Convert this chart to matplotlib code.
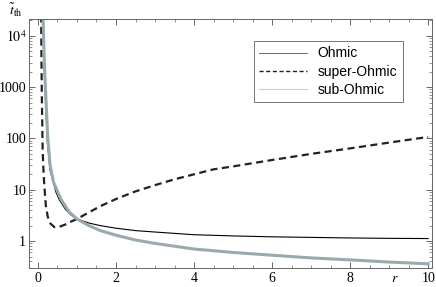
import numpy as np
import matplotlib.pyplot as plt
from matplotlib.ticker import FixedLocator, NullFormatter, MultipleLocator

plt.rcParams['mathtext.fontset'] = 'stix'

# valeurs
r_ohm = [0.125, 0.145, 0.16, 0.19, 0.24, 0.31, 0.38, 0.46, 0.55, 0.7, 0.85, 1.0, 1.3, 1.6, 2.0,
         2.5, 3.0, 4.0, 5.0, 6.0, 7.0, 8.0, 9.0, 10.0]
t_ohm = [25000, 6000, 2500, 560, 85, 24, 15, 9.0, 6.3, 4.2, 3.2, 2.7, 2.25, 2.0, 1.78,
         1.6, 1.5, 1.33, 1.26, 1.21, 1.18, 1.15, 1.13, 1.12]

r_super = [0.082, 0.09, 0.10, 0.12, 0.14, 0.16, 0.20, 0.25, 0.32, 0.42, 0.55, 0.7, 0.85, 1.0,
           1.3, 1.6, 2.0, 2.5, 3.0, 3.5, 4.0, 4.5, 5.0, 6.0, 7.0, 8.0, 9.0, 10.0]
t_super = [25000, 3000, 600, 60, 25, 13, 5.0, 3.0, 2.2, 1.87, 1.9, 2.1, 2.4, 2.7,
           3.6, 4.8, 6.6, 9.3, 12.3, 16, 20, 25, 28.5, 38, 50, 64, 83, 107]

r_sub = [0.13, 0.15, 0.17, 0.20, 0.25, 0.31, 0.40, 0.59, 0.8, 1.0, 1.3, 1.6, 2.0, 2.5, 3.0,
         4.0, 5.0, 6.0, 7.0, 8.0, 9.0, 10.0]
t_sub = [25000, 6500, 2200, 700, 110, 30, 14, 6.5, 3.7, 2.7, 2.0, 1.6, 1.3, 1.05, 0.9,
         0.70, 0.6, 0.53, 0.47, 0.43, 0.39, 0.36]

fig = plt.figure(figsize=(4.36, 2.87), dpi=100)
ax = fig.add_axes([0.0665, 0.066, 0.9245, 0.868])

ax.plot(r_ohm, t_ohm, color="black", lw=0.8, label="Ohmic")
ax.plot(r_super, t_super, color="#222222", lw=1.6, ls=(0, (3.2, 2.0)), label="super-Ohmic")
ax.plot(r_sub, t_sub, color="#9aa9ae", lw=2.2, label="sub-Ohmic")

ax.set_yscale("log")
ax.set_xlim(-0.23, 10.1)
ax.set_ylim(0.298, 21300)

ax.xaxis.set_major_locator(MultipleLocator(2))
ax.xaxis.set_minor_locator(MultipleLocator(0.5))
ax.yaxis.set_major_locator(FixedLocator([1, 10, 100, 1000, 10000]))
ax.set_yticklabels(["1", "10", "100", "1000", r"$10^4$"])
mins = [m * 10 ** k for k in range(-1, 5) for m in range(2, 10)]
ax.yaxis.set_minor_locator(FixedLocator(mins))
ax.yaxis.set_minor_formatter(NullFormatter())

ax.tick_params(which="both", direction="in", top=True, right=True, color="#666666",
               labelsize=10, pad=3)
ax.tick_params(axis="y", pad=2)
ax.tick_params(which="major", length=4, width=0.7)
ax.tick_params(which="minor", length=2, width=0.5)
for lab in ax.get_xticklabels() + ax.get_yticklabels():
    lab.set_family("Liberation Serif")
for s in ax.spines.values():
    s.set_color("#666666")
    s.set_linewidth(0.7)

fig.text(0.02, 0.995, r"$\tilde{t}_{\rm th}$", fontsize=10, va="top")
fig.text(0.906, 0.03, r"$r$", fontsize=10, ha="center", va="center")

leg = ax.legend(loc="upper right", bbox_to_anchor=(0.945, 0.94),
                prop={"family": "Liberation Sans", "size": 10},
                fancybox=False, edgecolor="#555555", handlelength=3.4,
                labelspacing=0.3, borderpad=0.4, handletextpad=0.8)
leg.get_frame().set_linewidth(0.7)
hl = leg.get_lines()
hl[0].set_linewidth(0.6)
hl[0].set_color("#555555")
hl[1].set_linewidth(1.0)
hl[1].set_linestyle((0, (3.0, 1.8)))
hl[2].set_linewidth(0.8)
hl[2].set_color("#c4d0d3")

plt.savefig("out.png", dpi=100)
